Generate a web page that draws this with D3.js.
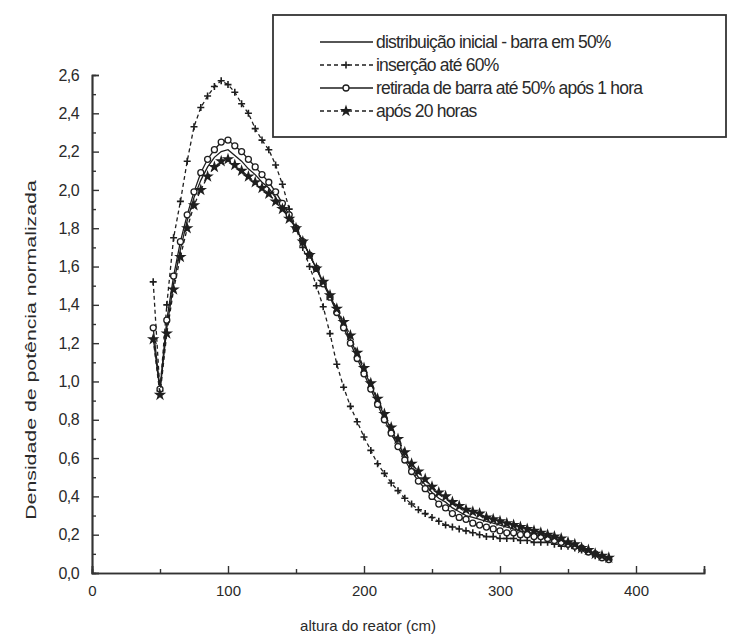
<!DOCTYPE html>
<html>
<head>
<meta charset="utf-8">
<script src="https://cdn.jsdelivr.net/npm/d3@7"></script>
<style>
  body { margin: 0; background: #fff; }
  svg { display: block; font-family: "Liberation Sans", Arial, sans-serif; }
</style>
</head>
<body>
<div id="chart"></div>
<script>
// altura do reator (cm)
const heights = [45, 50, 55, 60, 65, 70, 75, 80, 85, 90, 95, 100, 105, 110, 115, 120, 125, 130, 135, 140,
  145, 150, 155, 160, 165, 170, 175, 180, 185, 190, 195, 200, 205, 210, 215, 220, 225, 230, 235, 240,
  245, 250, 255, 260, 265, 270, 275, 280, 285, 290, 295, 300, 305, 310, 315, 320, 325, 330, 335, 340,
  345, 350, 355, 360, 365, 370, 375, 380];

const inicial = [1.23, 0.95, 1.28, 1.51, 1.69, 1.84, 1.96, 2.05, 2.12, 2.17, 2.20, 2.21, 2.18, 2.15, 2.11, 2.08, 2.04, 2.01, 1.96, 1.91,
  1.86, 1.80, 1.73, 1.66, 1.59, 1.52, 1.45, 1.37, 1.30, 1.22, 1.14, 1.06, 0.98, 0.90, 0.82, 0.75, 0.68, 0.61, 0.55, 0.50,
  0.46, 0.42, 0.39, 0.37, 0.34, 0.32, 0.30, 0.29, 0.28, 0.27, 0.26, 0.25, 0.24, 0.23, 0.22, 0.21, 0.21, 0.20, 0.19, 0.18,
  0.17, 0.16, 0.14, 0.13, 0.11, 0.10, 0.08, 0.07];

const insercao60 = [1.52, 0.95, 1.40, 1.75, 1.94, 2.15, 2.33, 2.43, 2.49, 2.54, 2.57, 2.55, 2.51, 2.45, 2.40, 2.32, 2.26, 2.21, 2.13, 2.03,
  1.90, 1.80, 1.70, 1.60, 1.50, 1.39, 1.25, 1.09, 0.97, 0.87, 0.79, 0.71, 0.64, 0.57, 0.52, 0.47, 0.43, 0.39, 0.36, 0.33,
  0.31, 0.29, 0.27, 0.25, 0.24, 0.23, 0.22, 0.21, 0.20, 0.19, 0.19, 0.18, 0.18, 0.18, 0.17, 0.17, 0.16, 0.16, 0.16, 0.15,
  0.14, 0.14, 0.13, 0.12, 0.11, 0.09, 0.08, 0.07];

const retirada1h = [1.28, 0.96, 1.32, 1.55, 1.73, 1.87, 1.99, 2.09, 2.16, 2.21, 2.25, 2.26, 2.23, 2.20, 2.16, 2.12, 2.08, 2.04, 1.99, 1.93,
  1.87, 1.80, 1.73, 1.66, 1.59, 1.51, 1.44, 1.36, 1.28, 1.20, 1.12, 1.04, 0.96, 0.88, 0.80, 0.73, 0.66, 0.59, 0.53, 0.48,
  0.44, 0.40, 0.36, 0.34, 0.31, 0.29, 0.28, 0.26, 0.25, 0.24, 0.23, 0.22, 0.21, 0.21, 0.20, 0.20, 0.19, 0.19, 0.18, 0.17,
  0.16, 0.15, 0.14, 0.13, 0.11, 0.10, 0.08, 0.07];

const apos20h = [1.22, 0.93, 1.25, 1.48, 1.65, 1.80, 1.92, 2.00, 2.07, 2.12, 2.15, 2.16, 2.13, 2.10, 2.07, 2.04, 2.01, 1.98, 1.94, 1.90,
  1.85, 1.80, 1.73, 1.66, 1.59, 1.52, 1.45, 1.38, 1.31, 1.24, 1.15, 1.07, 0.99, 0.91, 0.83, 0.76, 0.70, 0.63, 0.57, 0.53,
  0.49, 0.45, 0.42, 0.40, 0.37, 0.35, 0.33, 0.32, 0.31, 0.29, 0.28, 0.27, 0.26, 0.25, 0.24, 0.23, 0.22, 0.21, 0.20, 0.19,
  0.18, 0.16, 0.15, 0.13, 0.12, 0.10, 0.09, 0.08];

const legendLabels = [
  "distribuição inicial - barra em 50%",
  "inserção até 60%",
  "retirada de barra até 50% após 1 hora",
  "após 20 horas"
];
const xTicks = [0, 100, 200, 300, 400];
const xMinorTicks = [50, 150, 250, 350, 450];
const yTicks = [0, 0.2, 0.4, 0.6, 0.8, 1.0, 1.2, 1.4, 1.6, 1.8, 2.0, 2.2, 2.4, 2.6];
const yMinorTicks = [0.1, 0.3, 0.5, 0.7, 0.9, 1.1, 1.3, 1.5, 1.7, 1.9, 2.1, 2.3, 2.5];

const config = {
  width: 730,
  height: 636,
  margin: { top: 75, left: 92, bottom: 63, right: 26 },
  ink: "#1e1e1e",
  axisColor: "#333",
  textColor: "#2a2a2a",
};

const svg = d3.select("#chart").append("svg")
  .attr("width", config.width)
  .attr("height", config.height);

const scale_x = d3.scaleLinear()
  .domain([0, 450])
  .range([config.margin.left, config.width - config.margin.right]);
const scale_y = d3.scaleLinear()
  .domain([0, 2.6])
  .range([config.height - config.margin.bottom, config.margin.top]);

const fmtY = d => d3.format(".1f")(d).replace(".", ",");

// eixos
const g_axisX = svg.append("g")
  .attr("transform", `translate(0, ${scale_y(0)})`);
g_axisX.call(d3.axisBottom(scale_x).tickValues(xTicks).tickSize(-7).tickPadding(12).tickFormat(d3.format("d")));
g_axisX.append("g").call(d3.axisBottom(scale_x).tickValues(xMinorTicks).tickSize(-4).tickFormat(""));
g_axisX.selectAll(".tick text").style("font-size", "15px");

const g_axisY = svg.append("g")
  .attr("transform", `translate(${scale_x(0)}, 0)`);
g_axisY.call(d3.axisLeft(scale_y).tickValues(yTicks).tickSize(-7).tickPadding(13).tickFormat(fmtY));
g_axisY.append("g").call(d3.axisLeft(scale_y).tickValues(yMinorTicks).tickSize(-4).tickFormat(""));
g_axisY.selectAll(".tick text").style("font-size", "16px").style("letter-spacing", "-0.6px");

svg.selectAll(".domain").attr("stroke", config.axisColor).attr("stroke-width", 1.7);
svg.selectAll(".tick line").attr("stroke", config.axisColor).attr("stroke-width", 1.4);
svg.selectAll(".tick text").attr("fill", config.textColor);

// rótulos dos eixos
svg.append("text")
  .attr("x", 368).attr("y", 631)
  .attr("text-anchor", "middle")
  .attr("fill", config.textColor)
  .style("font-size", "15px")
  .text("altura do reator (cm)");
svg.append("text")
  .attr("transform", `translate(36, 350) rotate(-90) scale(1.42, 1)`)
  .attr("text-anchor", "middle")
  .attr("fill", config.textColor)
  .style("font-size", "15px")
  .text("Densidade de potência normalizada");

// séries
const series = [
  { name: legendLabels[1], values: insercao60, dash: "4,3", marker: "plus" },
  { name: legendLabels[0], values: inicial, dash: null, marker: null },
  { name: legendLabels[2], values: retirada1h, dash: null, marker: "circle" },
  { name: legendLabels[3], values: apos20h, dash: "4,3", marker: "star" },
];

const line = d3.line()
  .x((d, i) => scale_x(heights[i]))
  .y(d => scale_y(d));

const starPath = d3.symbol().type(d3.symbolStar).size(48)();

function drawMarker(g, type, x, y) {
  if (type === "plus") {
    g.append("path")
      .attr("d", `M${x - 3.5},${y}H${x + 3.5}M${x},${y - 3.5}V${y + 3.5}`)
      .attr("stroke", config.ink).attr("stroke-width", 1.6);
  } else if (type === "circle") {
    g.append("circle")
      .attr("cx", x).attr("cy", y).attr("r", 3)
      .attr("fill", "#fff").attr("stroke", config.ink).attr("stroke-width", 1.3);
  } else if (type === "star") {
    g.append("path")
      .attr("d", starPath)
      .attr("transform", `translate(${x},${y})`)
      .attr("fill", config.ink);
  }
}

series.forEach(s => {
  const g = svg.append("g");
  g.append("path")
    .attr("d", line(s.values))
    .attr("fill", "none")
    .attr("stroke", config.ink)
    .attr("stroke-width", 1.3)
    .attr("stroke-dasharray", s.dash);
  if (s.marker) {
    s.values.forEach((v, i) => drawMarker(g, s.marker, scale_x(heights[i]), scale_y(v)));
  }
});

// legenda
const legend = svg.append("g");
legend.append("rect")
  .attr("x", 273).attr("y", 15)
  .attr("width", 453).attr("height", 122)
  .attr("fill", "#fff")
  .attr("stroke", "#333").attr("stroke-width", 1.8);

const legendItems = [
  { label: legendLabels[0], dash: null, marker: null },
  { label: legendLabels[1], dash: "4,3", marker: "plus" },
  { label: legendLabels[2], dash: null, marker: "circle" },
  { label: legendLabels[3], dash: "4,3", marker: "star" },
];
legendItems.forEach((d, i) => {
  const y = 42 + i * 23;
  legend.append("line")
    .attr("x1", 320).attr("x2", 373)
    .attr("y1", y).attr("y2", y)
    .attr("stroke", config.ink).attr("stroke-width", 1.4)
    .attr("stroke-dasharray", d.dash);
  if (d.marker) drawMarker(legend, d.marker, 346, y);
  legend.append("text")
    .attr("x", 376).attr("y", y + 6)
    .attr("fill", config.textColor)
    .style("font-size", "17.5px")
    .style("letter-spacing", "-0.8px")
    .text(d.label);
});
</script>
</body>
</html>
